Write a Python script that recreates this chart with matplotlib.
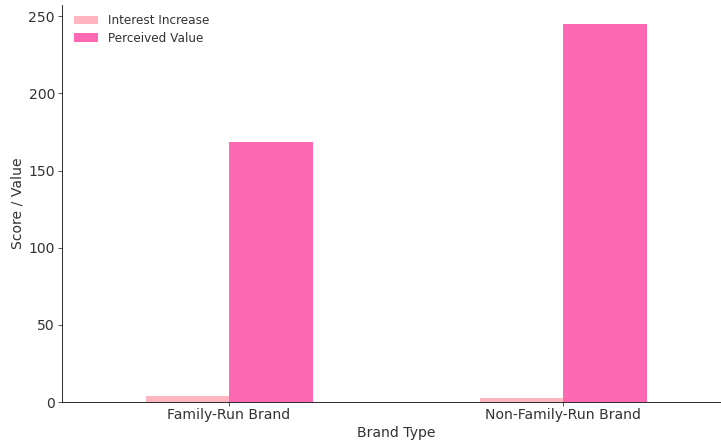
import numpy as np
import matplotlib
matplotlib.use('Agg')
import matplotlib.pyplot as plt

categories = ['Family-Run Brand', 'Non-Family-Run Brand']
interest_increase = [4, 3]
perceived_value = [168.5, 245]
series_labels = ['Interest Increase', 'Perceived Value']
colors = ['#FFB6C1', '#FF69B4']

text_color = '#333333'
plt.rcParams['text.color'] = text_color
plt.rcParams['axes.labelcolor'] = text_color
plt.rcParams['xtick.color'] = text_color
plt.rcParams['ytick.color'] = text_color

# drawn as a 10 inch wide figure, saved at 721 px wide
dpi = 72.1
fig, ax = plt.subplots(figsize=(721 / dpi, 441 / dpi), dpi=dpi)

x = np.arange(len(categories))
width = 0.25
ax.bar(x - width / 2, interest_increase, width, color=colors[0], label=series_labels[0])
ax.bar(x + width / 2, perceived_value, width, color=colors[1], label=series_labels[1])

ax.set_xticks(x, labels=categories, fontsize=14)
ax.set_xlim(-0.5, 1.5)
ax.set_ylim(0, max(perceived_value) * 1.05)
ax.tick_params(axis='y', labelsize=14)
ax.tick_params(axis='x', pad=2.5)
ax.set_xlabel('Brand Type', fontsize=14)
ax.set_ylabel('Score / Value', fontsize=14)

for side in ['top', 'right']:
    ax.spines[side].set_visible(False)

ax.legend(loc='upper left', frameon=False, fontsize=12,
          bbox_to_anchor=(0.002, 1.004), labelspacing=0.4)

# the original was cropped on the right, so the axes run past the edge
plt.subplots_adjust(left=0.086, right=1.0125, bottom=0.088, top=0.989)
plt.savefig('out.png', dpi=dpi)
